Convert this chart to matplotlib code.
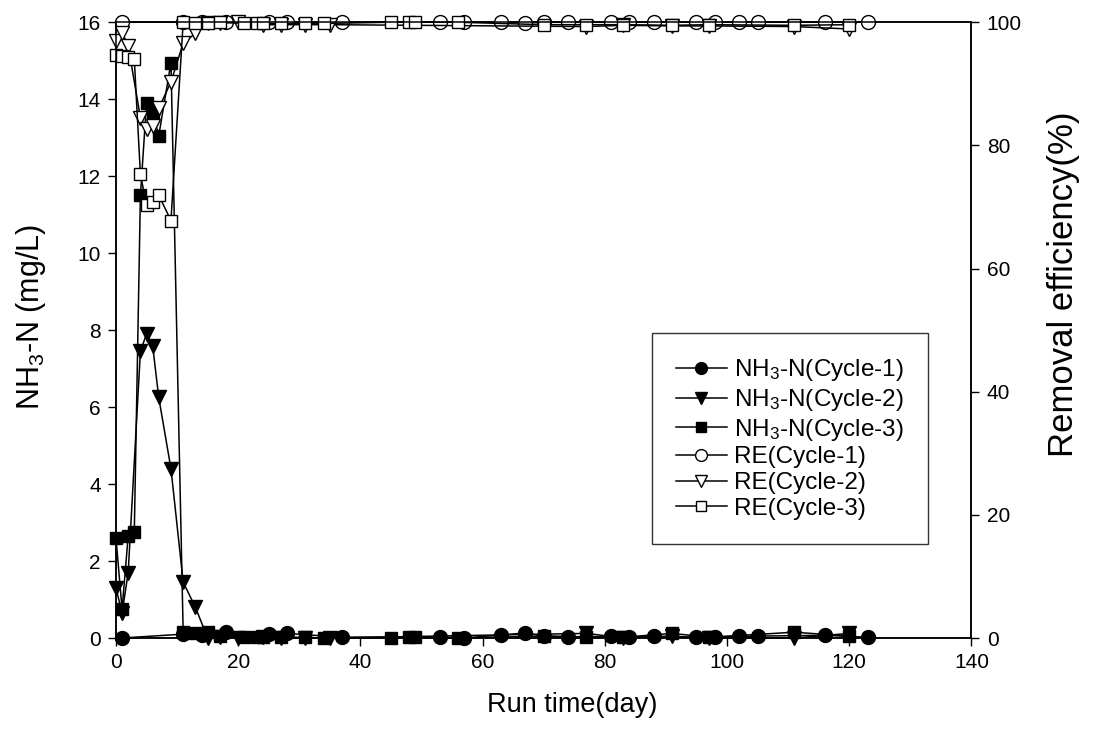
import matplotlib
matplotlib.use("Agg")
import matplotlib.pyplot as plt

plt.rcParams['font.family'] = ['Liberation Sans', 'DejaVu Sans']
plt.rcParams['mathtext.fontset'] = 'custom'
plt.rcParams['mathtext.rm'] = 'Liberation Sans'
plt.rcParams['mathtext.it'] = 'Liberation Sans:italic'

# NH3-N concentration and removal efficiency for the three cycles
days1 = [1, 11, 14, 18, 25, 28, 37, 53, 57, 63, 67, 70, 74, 81, 84, 88, 95, 98, 102, 105, 116, 123]
nh3_1 = [0.0, 0.1, 0.08, 0.15, 0.1, 0.12, 0.02, 0.03, 0.0, 0.08, 0.13, 0.05, 0.03, 0.04, 0.03, 0.04, 0.02, 0.03, 0.04, 0.05, 0.07, 0.02]
re_1 = [100, 100, 100, 100, 100, 100, 100, 100, 100, 100, 99.9, 100, 100, 100, 100, 100, 100, 100, 100, 100, 100, 100]

days2 = [0, 1, 2, 4, 5, 6, 7, 9, 11, 13, 15, 17, 20, 24, 27, 31, 35, 77, 83, 91, 97, 111, 120]
nh3_2 = [1.3, 0.65, 1.7, 7.45, 7.9, 7.6, 6.25, 4.4, 1.45, 0.8, 0.0, 0.02, 0.0, 0.02, 0.0, 0.0, 0.0, 0.12, 0.0, 0.05, 0.0, 0.0, 0.12]
re_2 = [96.9, 98.3, 96.2, 84.5, 82.6, 83.2, 86.0, 90.3, 96.6, 98.2, 99.8, 99.9, 100, 99.6, 99.6, 99.6, 99.6, 99.3, 99.5, 99.4, 99.4, 99.3, 98.9]

days3 = [0, 1, 2, 3, 4, 5, 6, 7, 9, 11, 13, 15, 17, 21, 23, 24, 27, 31, 34, 45, 48, 49, 56, 70, 77, 83, 91, 97, 111, 120]
nh3_3 = [2.6, 0.75, 2.65, 2.75, 11.5, 13.9, 13.65, 13.05, 14.95, 0.15, 0.12, 0.15, 0.05, 0.02, 0.02, 0.03, 0.02, 0.02, 0.0, 0.0, 0.02, 0.02, 0.0, 0.05, 0.03, 0.02, 0.12, 0.02, 0.15, 0.05]
re_3 = [94.7, 94.5, 94.3, 94.0, 75.3, 70.3, 70.8, 71.9, 67.8, 100, 99.8, 99.8, 100, 99.8, 99.8, 99.8, 99.8, 99.8, 99.8, 100, 100, 100, 100, 99.6, 99.6, 99.6, 99.5, 99.6, 99.5, 99.6]

fig = plt.figure(figsize=(10.94, 7.41), dpi=100)
ax = fig.add_axes([0.106, 0.139, 0.782, 0.831])
ax2 = ax.twinx()

lw = 1.1
kw = dict(color='black', linewidth=lw, clip_on=False)

h1, = ax.plot(days1, nh3_1, marker='o', markersize=10, markerfacecolor='black', markeredgecolor='black', label='NH$_3$-N(Cycle-1)', **kw)
h2, = ax.plot(days2, nh3_2, marker='v', markersize=10, markerfacecolor='black', markeredgecolor='black', label='NH$_3$-N(Cycle-2)', **kw)
h3, = ax.plot(days3, nh3_3, marker='s', markersize=9, markerfacecolor='black', markeredgecolor='black', label='NH$_3$-N(Cycle-3)', **kw)

h4, = ax2.plot(days1, re_1, marker='o', markersize=10, markerfacecolor='white', markeredgecolor='black', markeredgewidth=1.0, label='RE(Cycle-1)', **kw)
h5, = ax2.plot(days2, re_2, marker='v', markersize=10, markerfacecolor='white', markeredgecolor='black', markeredgewidth=1.0, label='RE(Cycle-2)', **kw)
h6, = ax2.plot(days3, re_3, marker='s', markersize=9, markerfacecolor='white', markeredgecolor='black', markeredgewidth=1.0, label='RE(Cycle-3)', **kw)

ax.set_xlim(0, 140)
ax.set_ylim(0, 16)
ax2.set_ylim(0, 100)
ax.set_xticks(range(0, 141, 20))
ax.set_yticks(range(0, 17, 2))
ax2.set_yticks(range(0, 101, 20))

for a in (ax, ax2):
    a.tick_params(direction='out', length=6, width=1.0, labelsize=15, colors='black', pad=5)
    for s in a.spines.values():
        s.set_linewidth(1.1)

# axis titles
fig.text(0.523, 0.049, 'Run time(day)', fontsize=19.5, ha='center', va='center')
fig.text(0.028, 0.572, 'NH$_3$-N (mg/L)', fontsize=22, ha='center', va='center', rotation=90)
fig.text(0.972, 0.617, 'Removal efficiency(%)', fontsize=25, ha='center', va='center', rotation=90)

leg = ax2.legend(handles=[h1, h2, h3, h4, h5, h6], loc='upper left',
                 bbox_to_anchor=(0.626, 0.495), fontsize=17.5, frameon=True,
                 fancybox=False, edgecolor='black', handlelength=2.1,
                 handletextpad=0.3, labelspacing=0.15, borderpad=1.0,
                 borderaxespad=0.0, markerscale=0.85)
leg.get_frame().set_linewidth(1.0)

fig.savefig('out.png', dpi=100)
